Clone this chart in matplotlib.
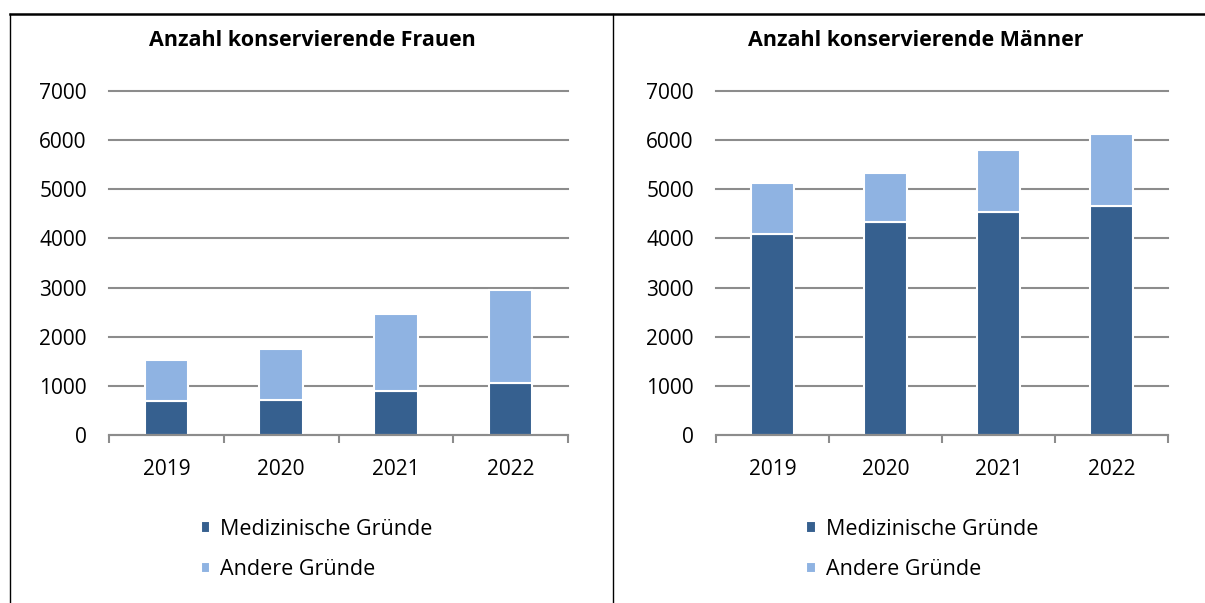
import numpy as np
import matplotlib
matplotlib.use("Agg")
import matplotlib.pyplot as plt
from matplotlib.lines import Line2D

years = ["2019", "2020", "2021", "2022"]
frauen_med = [690, 710, 905, 1050]
frauen_andere = [830, 1050, 1560, 1900]
maenner_med = [4090, 4340, 4530, 4660]
maenner_andere = [1045, 985, 1275, 1470]

titles = ["Anzahl konservierende Frauen", "Anzahl konservierende Männer"]
series_names = ["Medizinische Gründe", "Andere Gründe"]
dark = "#36608f"
light = "#8fb3e2"
grid_col = "#8c8c8c"

plt.rcParams['font.family'] = ['Open Sans', 'DejaVu Sans']

fig = plt.figure(figsize=(12.05, 6.03), dpi=100)

panels = [
    (fig.add_axes([109 / 1205, 168 / 603, 459 / 1205, 344 / 603]), frauen_med, frauen_andere, 312),
    (fig.add_axes([716 / 1205, 168 / 603, 452 / 1205, 344 / 603]), maenner_med, maenner_andere, 916),
]

for (ax, med, andere, tx), title in zip(panels, titles):
    x = np.arange(len(years))
    b1 = ax.bar(x, med, width=0.38, color=dark, edgecolor="white", linewidth=1.5, zorder=3)
    b2 = ax.bar(x, andere, bottom=med, width=0.38, color=light, edgecolor="white", linewidth=1.5, zorder=3)
    ax.set_xlim(-0.5, len(years) - 0.5)
    ax.set_ylim(0, 7000)
    ax.set_yticks(range(0, 7001, 1000))
    ax.yaxis.grid(True, color=grid_col, linewidth=1.5, zorder=1)
    for gl in ax.get_ygridlines():
        gl.set_clip_on(False)
    ax.set_axisbelow(True)
    for s in ["top", "right", "left"]:
        ax.spines[s].set_visible(False)
    ax.spines["bottom"].set_color(grid_col)
    ax.spines["bottom"].set_linewidth(1.5)
    ax.spines["bottom"].set_zorder(4)
    ax.set_xticks(x)
    ax.set_xticklabels(years)
    ax.set_xticks(np.arange(-0.5, len(years)), minor=True)
    ax.tick_params(axis="x", which="major", length=0, pad=17, labelsize=15)
    ax.tick_params(axis="x", which="minor", length=6, width=1.5, color=grid_col)
    ax.tick_params(axis="y", length=0, pad=16, labelsize=15)
    fig.text(tx / 1205, 1 - 40 / 603, title, ha="center", va="center",
             fontsize=15.5, fontweight="bold")
    ax.legend([b1, b2], series_names, loc="upper left",
              bbox_to_anchor=(0.2, -0.243),
              frameon=False, fontsize=15.5, handlelength=0.45, handleheight=0.45,
              handletextpad=0.45, labelspacing=0.9, borderaxespad=0, borderpad=0)

# table borders around the two panels
fig.add_artist(Line2D([10 / 1205, 1], [1 - 14 / 603, 1 - 14 / 603], color="black", linewidth=1.8))
fig.add_artist(Line2D([10 / 1205, 10 / 1205], [0, 1 - 14 / 603], color="black", linewidth=1))
fig.add_artist(Line2D([613 / 1205, 613 / 1205], [0, 1 - 14 / 603], color="black", linewidth=1))

fig.savefig("out.png", dpi=100)
